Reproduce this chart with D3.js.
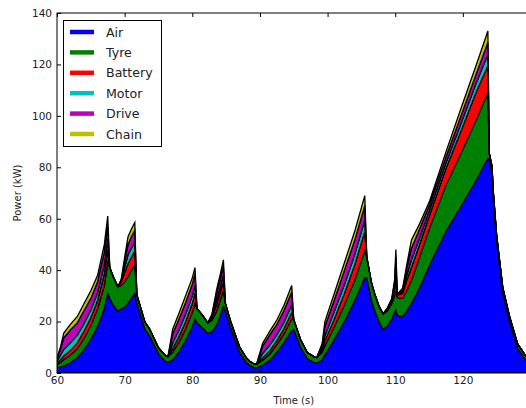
<!DOCTYPE html>
<html><head><meta charset="utf-8">
<script src="https://cdn.jsdelivr.net/npm/d3@7/dist/d3.min.js"></script>
<style>body{margin:0;background:#fff}svg{display:block}text{font-family:"DejaVu Sans",sans-serif}</style>
</head><body>
<script>
const time    = [60,60.5,61,62,63,64,65,66,67,67.5,67.8,68.3,69,69.5,70,70.5,71,71.5,71.8,72.3,73,73.7,75,76,76.4,
                 77.1,78,79,80,80.4,80.7,81.5,82.3,82.9,83.6,84.1,84.6,84.9,85.6,86.3,87,88,88.5,89.2,89.5,
                 90.4,91.5,92.5,93.5,94.7,95,96,97,98.1,98.4,99.2,99.6,101,102.5,104,105.5,105.8,106.5,107,107.6,108.2,108.8,109.5,109.9,110.1,110.3,110.6,111.1,111.7,112.4,113.6,115.1,117.5,120,122,123.7,123.9,124.3,124.5,125,125.9,126.9,128.1,129.3,130];
const air     = [2,2.3,2.7,4,6,9,13,18,25,31,29,26.5,24,25,25.5,27,29,31,27,23,17,14.5,7.5,4.5,4.2,
                 5,8,12.5,18,21,19.5,17.5,15.5,16,18.5,22,26,24,18,13,8,4,3,2,2,
                 3,5,8,11.5,16.5,17,10,5.5,4,3.8,5,7,13,20,28,37,37,28,24,20,17,18,21,23.5,24.5,22.5,22,22,24,27,33,42,55,66,75,83.5,83,78,68,51,31,20,9.5,5,4];
const tyre    = [1.2,1.8,2.5,3,3.5,4.5,5.5,7,9,12,12,11,9.5,9,10,10.5,11,11,3.5,3,2.8,2.6,2.3,2.3,2.2,
                 3,3.8,4.5,5.5,6,5.5,5,4,4.5,5.5,6,6,3,2.6,2.3,2.1,1.8,1.6,1.4,1.4,
                 2,2.5,3,3.5,4.5,3.7,3,2.5,2.2,2.2,3,3.5,5,6.5,8,10.5,8,7,6.5,6,6,6,6,6.5,7,7,7,7,8,9,12,14.5,18,21,23.5,25.5,2.5,2.5,2.4,2.3,2.2,2,1.8,1.6,1.5];
const battery = [0.5,1,1.4,1.8,2.2,2.8,3,3.2,4.5,5,0,0,0,1.5,3.5,5,5,5.5,0,0,0,0,0,0,0,
                 1.5,2.2,2.8,3.5,4,0,0,0,1,2.5,3,3.5,0,0,0,0,0,0,0,0,
                 0.9,1.3,1.6,2,2.5,0,0,0,0,0,1,2,3,4.5,6,7.5,0,0,0,0,0,1,1.2,2.5,6,1,1.5,2,4,5,5,5,6.5,9,11,10.5,0,0,0,0,0,0,0,0,0];
const motor   = [0.8,1.8,2.6,3,3,3,3,3,3.5,4,0,0,0,0.5,2,3.5,3.5,3.5,0,0,0,0,0,0,0,
                 2.2,2.5,3,3,3,0,0,0,0.5,2,2,2.5,0,0,0,0,0,0,0,0,
                 1.7,2.2,2.3,2.5,3,0,0,0,0,0,0.8,2,3,3.5,4,4.5,0,0,0,0,0,0,0.4,1.2,3.5,0.3,0.5,0.8,2,3,2.5,2,2.2,3,3.5,4.5,0,0,0,0,0,0,0,0,0];
const drive   = [1,2.2,4.5,5,4.8,5,4.5,4.3,5,5,0,0,0,0.3,2.5,4,4.5,4.5,0,0,0,0,0,0,0,
                 3.5,4.3,4.5,4.5,4.5,0,0,0,0.5,2.5,3,3.5,0,0,0,0,0,0,0,0,
                 2.8,4,4,4.5,5,0,0,0,0,0,1.2,3.5,4.5,5.5,5.5,5.5,0,0,0,0,0,0,0.3,1.5,4,0.2,0.3,0.8,2.5,4.5,3.5,2,2.3,3,3.5,4.5,0,0,0,0,0,0,0,0,0];
const chain   = [0.5,0.9,1.8,2.2,2.5,2.7,3,2.5,3,4,0,0,0,0.2,1.5,3,3,3,0,0,0,0,0,0,0,
                 1.8,2.2,2.7,2.5,2.5,0,0,0,0.3,1.5,2,2.5,0,0,0,0,0,0,0,0,
                 1.2,1.5,1.7,2,2.5,0,0,0,0,0,0.5,2,2.5,3,3.5,4,0,0,0,0,0,0,0.1,0.8,3,0,0.2,0.4,1.5,3.2,2,1.5,2,3,3.5,4.5,0,0,0,0,0,0,0,0,0];

const seriesNames = ["Air","Tyre","Battery","Motor","Drive","Chain"];
const seriesColors = ["#0000ff","#008000","#ff0000","#00bfbf","#bf00bf","#bfbf00"];
const xTicks = [60,70,80,90,100,110,120,130];
const xTickLabels = ["60","70","80","90","100","110","120",""];
const yTicks = [0,20,40,60,80,100,120,140];
const xLabel = "Time (s)", yLabel = "Power (kW)";

const W = 526, H = 408;
const L = 57, R = 530.5, T = 13, B = 373;
const svg = d3.select("body").append("svg").attr("width", W).attr("height", H);
const x = d3.scaleLinear().domain([60,130]).range([L,R]);
const y = d3.scaleLinear().domain([0,140]).range([B,T]);

const cols = [air,tyre,battery,motor,drive,chain];
const rows = time.map((t,i)=>{const o={t}; seriesNames.forEach((n,k)=>o[n]=cols[k][i]); return o;});
const stack = d3.stack().keys(seriesNames)(rows);

svg.append("clipPath").attr("id","clip").append("rect").attr("x",L).attr("y",T).attr("width",R-L).attr("height",B-T);
const area = d3.area().x(d=>x(d.data.t)).y0(d=>y(d[0])).y1(d=>y(d[1]));
svg.append("g").attr("clip-path","url(#clip)").selectAll("path").data(stack).join("path")
  .attr("d",area).attr("fill",(d,i)=>seriesColors[i]).attr("stroke","#000").attr("stroke-width",1.3).attr("stroke-linejoin","miter");

// axes (ticks inward, classic style)
const fmt = d3.format("d");
const gx = svg.append("g").attr("transform",`translate(0,${B})`).call(d3.axisBottom(x).tickValues(xTicks).tickSize(-4).tickPadding(4).tickFormat((d,i)=>xTickLabels[i]));
const gxt = svg.append("g").attr("transform",`translate(0,${T})`).call(d3.axisTop(x).tickValues(xTicks).tickSize(-4).tickFormat(""));
const gy = svg.append("g").attr("transform",`translate(${L},0)`).call(d3.axisLeft(y).tickValues(yTicks).tickSize(-4).tickPadding(5).tickFormat(fmt));
const gyr = svg.append("g").attr("transform",`translate(${R},0)`).call(d3.axisRight(y).tickValues(yTicks).tickSize(-4).tickFormat(""));
[gx,gxt,gy,gyr].forEach(g=>{g.select(".domain").remove(); g.selectAll("line").attr("stroke","#000");
  g.selectAll("text").attr("font-size","10.5px").attr("fill","#222").attr("font-family","DejaVu Sans, sans-serif");});
svg.append("rect").attr("x",L).attr("y",T).attr("width",R-L).attr("height",B-T).attr("fill","none").attr("stroke","#000").attr("stroke-width",1);

svg.append("text").attr("x",(L+R)/2).attr("y",404).attr("text-anchor","middle").attr("font-size","10px").attr("fill","#222").text(xLabel);
svg.append("text").attr("transform",`translate(21,${(T+B)/2}) rotate(-90)`).attr("text-anchor","middle").attr("font-size","10px").attr("fill","#222").text(yLabel);

// legend
const lg = svg.append("g");
lg.append("rect").attr("x",63.5).attr("y",20.5).attr("width",98).attr("height",126).attr("fill","#fff").attr("stroke","#000").attr("stroke-width",1);
seriesNames.forEach((n,i)=>{
  const cy = 32 + i*20.4;
  lg.append("line").attr("x1",70).attr("x2",94).attr("y1",cy).attr("y2",cy).attr("stroke",seriesColors[i]).attr("stroke-width",4.5);
  lg.append("text").attr("x",106).attr("y",cy).attr("dy","0.36em").attr("font-size","12.6px").attr("fill","#222").text(n);
});
</script>
</body></html>
